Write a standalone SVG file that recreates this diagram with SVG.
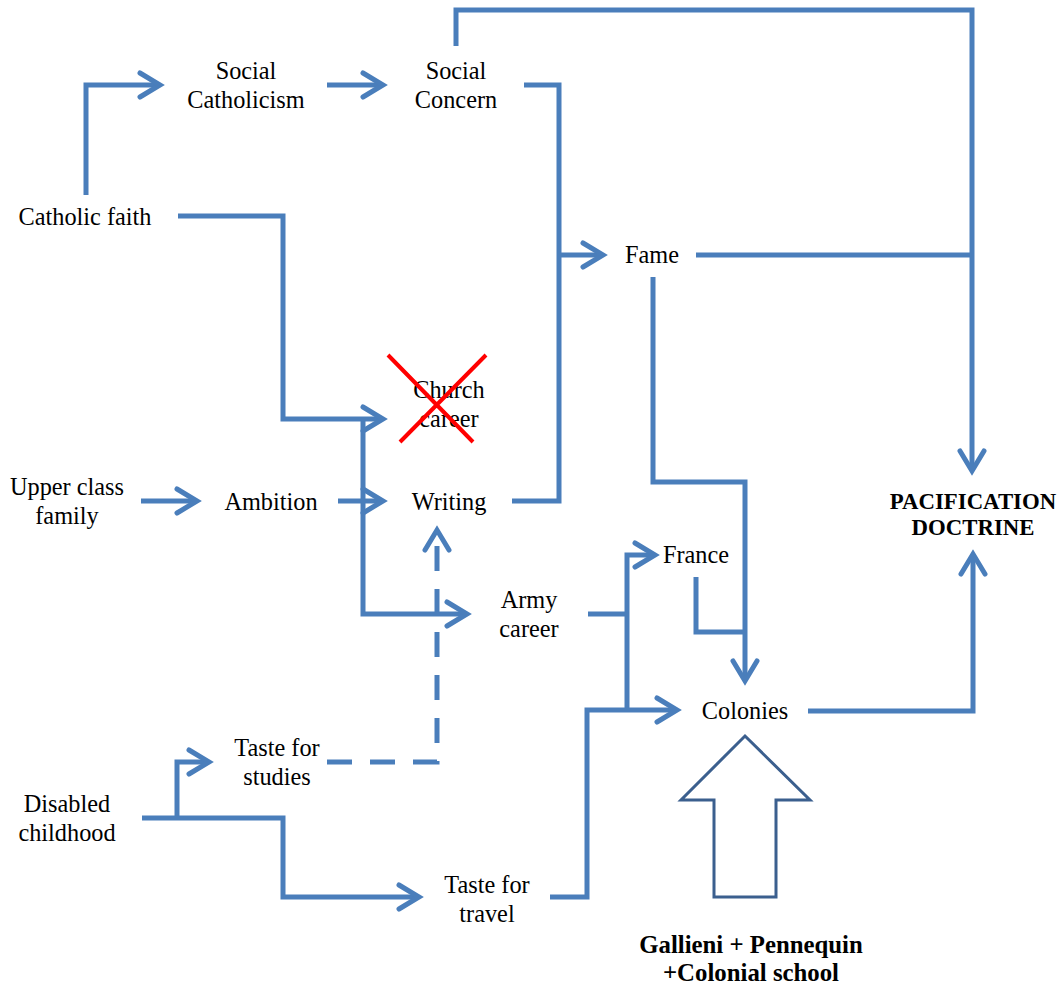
<svg xmlns="http://www.w3.org/2000/svg" width="1064" height="990" viewBox="0 0 1064 990">
<style>
.t{font-family:"Liberation Serif","Times New Roman",serif;font-size:24.3px;fill:#000;text-anchor:middle}
.b{font-family:"Liberation Serif","Times New Roman",serif;font-weight:bold;fill:#000;text-anchor:middle}
.c{fill:none;stroke:#4a7ebb;stroke-width:5;stroke-linejoin:miter}
.a{marker-end:url(#ah)}
.d{stroke-dasharray:25 18}
</style>
<defs>
<marker id="ah" viewBox="-25 -15 33 30" refX="0" refY="0" markerWidth="33" markerHeight="30" orient="auto" markerUnits="userSpaceOnUse">
<path d="M-20,-12 L0,0 L-20,12" fill="none" stroke="#4a7ebb" stroke-width="5" stroke-linecap="round" stroke-dasharray="none"/>
</marker>
</defs>
<rect width="1064" height="990" fill="#fff"/>
<g id="connectors">
<path class="c a" d="M86,195 V85 H160"/>
<path class="c a" d="M327,85 H383"/>
<path class="c a" d="M456,46 V10 H972 V471"/>
<path class="c" d="M512,501 H559 V85 H524"/>
<path class="c a" d="M559,255 H603"/>
<path class="c" d="M696,255 H972"/>
<path class="c a" d="M653,277 V482 H745 V681"/>
<path class="c" d="M696,577 V632 H745"/>
<path class="c" d="M588,614 H627"/>
<path class="c a" d="M627,710 V555 H655"/>
<path class="c a" d="M550,897 H587 V710 H677"/>
<path class="c a" d="M808,711 H973 V554"/>
<path class="c a" d="M178,216 H283 V419 H383"/>
<path class="c a" d="M363,419 V614 H467"/>
<path class="c a" d="M141,501 H197"/>
<path class="c a" d="M338,501 H383"/>
<path class="c d a" d="M327,762 H437 V530"/>
<path class="c a" d="M142,818 H283 V897 H419"/>
<path class="c a" d="M177,818 V762 H209"/>
</g>
<g id="catholic-faith"><text class="t" x="85" y="225">Catholic faith</text></g>
<g id="social-catholicism"><text class="t" x="246" y="79">Social</text><text class="t" x="246" y="108">Catholicism</text></g>
<g id="social-concern"><text class="t" x="456" y="79">Social</text><text class="t" x="456" y="108">Concern</text></g>
<g id="fame"><text class="t" x="652" y="263">Fame</text></g>
<g id="church-career"><text class="t" x="449" y="398">Church</text><text class="t" x="449" y="427">career</text>
<path d="M388,355 L473,442 M486,355 L400,442" stroke="#ff0000" stroke-width="4" fill="none"/></g>
<g id="upper-class-family"><text class="t" x="67" y="495">Upper class</text><text class="t" x="67" y="524">family</text></g>
<g id="ambition"><text class="t" x="271" y="510">Ambition</text></g>
<g id="writing"><text class="t" x="449" y="510">Writing</text></g>
<g id="france"><text class="t" x="696" y="563">France</text></g>
<g id="army-career"><text class="t" x="529" y="608">Army</text><text class="t" x="529" y="637">career</text></g>
<g id="colonies"><text class="t" x="745" y="719">Colonies</text></g>
<g id="taste-studies"><text class="t" x="277" y="756">Taste for</text><text class="t" x="277" y="785">studies</text></g>
<g id="disabled-childhood"><text class="t" x="67" y="812">Disabled</text><text class="t" x="67" y="841">childhood</text></g>
<g id="taste-travel"><text class="t" x="487" y="893">Taste for</text><text class="t" x="487" y="922">travel</text></g>
<g id="pacification"><text class="b" x="973" y="509" font-size="22.8">PACIFICATION</text><text class="b" x="973" y="535" font-size="22.8">DOCTRINE</text></g>
<g id="gallieni">
<polygon points="745,736 810,800 776,800 776,897 714,897 714,800 681,800" fill="#fff" stroke="#3b5f8e" stroke-width="3"/>
<text class="b" x="751" y="953" font-size="24.8">Gallieni + Pennequin</text><text class="b" x="751" y="981" font-size="24.8">+Colonial school</text>
</g>
</svg>
